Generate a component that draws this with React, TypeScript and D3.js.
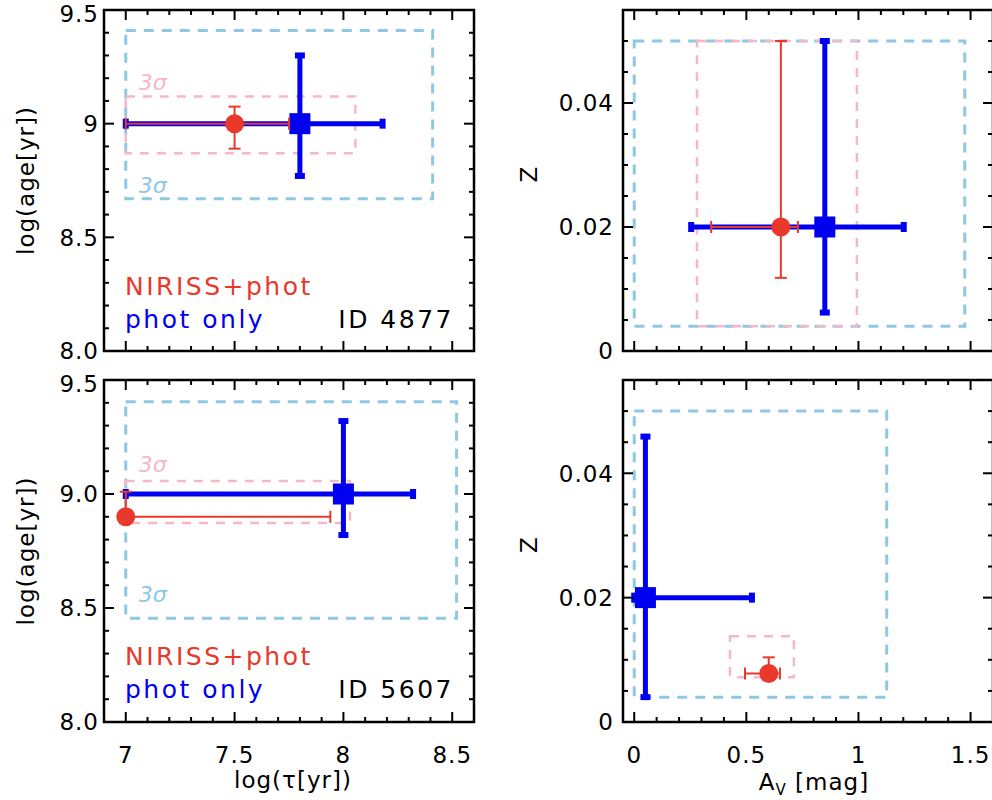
import React from "react";
import * as d3 from "d3";

// ---------- data ----------
const objectIds = ["4877", "5607"];
const ageTickLabelsTop = ["8.0", "8.5", "9", "9.5"];
const ageTickLabelsBottom = ["8.0", "8.5", "9.0", "9.5"];
const ageTicks = [8.0, 8.5, 9.0, 9.5];
const tauTicks = [7, 7.5, 8, 8.5];
const tauTickLabels = ["7", "7.5", "8", "8.5"];
const zTicks = [0, 0.02, 0.04];
const zTickLabels = ["0", "0.02", "0.04"];
const avTicks = [0, 0.5, 1, 1.5];
const avTickLabels = ["0", "0.5", "1", "1.5"];

// phot only (blue) — left column: tau vs age
const photTau = [7.8, 8.0];
const photTauLo = [7.0, 7.0];
const photTauHi = [8.18, 8.32];
const photAge = [9.0, 9.0];
const photAgeLo = [8.77, 8.82];
const photAgeHi = [9.3, 9.32];
// NIRISS+phot (red)
const nirTau = [7.5, 7.0];
const nirTauLo = [7.0, 7.0];
const nirTauHi = [7.75, 7.94];
const nirAge = [9.0, 8.9];
const nirAgeLo = [8.89, 8.89];
const nirAgeHi = [9.075, 9.01];
// 3 sigma boxes
const photBoxTau = [[7.0, 8.41], [7.0, 8.52]];
const photBoxAge = [[8.67, 9.41], [8.455, 9.405]];
const nirBoxTau = [[7.0, 8.055], [7.0, 8.03]];
const nirBoxAge = [[8.87, 9.12], [8.873, 9.057]];
const nirSigmaLabelAge = [9.15, 9.095];
const photSigmaLabelAge = [8.695, 8.525];

// right column: Av vs Z
const photAv = [0.85, 0.05];
const photAvLo = [0.254, 0.0];
const photAvHi = [1.202, 0.525];
const photZ = [0.02, 0.02];
const photZLo = [0.0062, 0.004];
const photZHi = [0.05, 0.0459];
const nirAv = [0.654, 0.6];
const nirAvLo = [0.343, 0.494];
const nirAvHi = [0.73, 0.65];
const nirZ = [0.02, 0.0078];
const nirZLo = [0.0118, 0.0075];
const nirZHi = [0.05, 0.0104];
const photBoxAv = [[0.0, 1.474], [0.0, 1.126]];
const photBoxZ = [[0.004, 0.05], [0.004, 0.05]];
const nirBoxAv = [[0.28, 0.993], [0.427, 0.712]];
const nirBoxZ = [[0.004, 0.05], [0.0072, 0.0138]];

// ---------- style ----------
const RED = "#e8392b";
const BLUE = "#0000f0";
const LBLUE = "#8ec8e4";
const PINK = "#f5b8c6";
const FONT = "'DejaVu Sans', sans-serif";

type PanelProps = {
  x0: number; x1: number; y0: number; y1: number;
  xDomain: [number, number]; yDomain: [number, number];
  xMajor: number[]; yMajor: number[];
  xLabels?: string[]; yLabels: string[];
  xMinorCount: number; yMinorCount: number;
  yLabelOffset: number;
  children: (x: d3.ScaleLinear<number, number>, y: d3.ScaleLinear<number, number>) => React.ReactNode;
};

function Panel(p: PanelProps) {
  const x = d3.scaleLinear().domain(p.xDomain).range([p.x0, p.x1]);
  const y = d3.scaleLinear().domain(p.yDomain).range([p.y1, p.y0]);
  const xMinor = x.ticks(p.xMinorCount);
  const yMinor = y.ticks(p.yMinorCount);
  const isMajor = (v: number, arr: number[]) => arr.some((m) => Math.abs(m - v) < 1e-9);
  const MAJ = 10, MIN = 5;
  return (
    <g>
      <defs>
        <clipPath id={`clip-${p.x0}-${p.y0}`}>
          <rect x={p.x0} y={p.y0} width={p.x1 - p.x0} height={p.y1 - p.y0} />
        </clipPath>
      </defs>
      <g clipPath={`url(#clip-${p.x0}-${p.y0})`}>{p.children(x, y)}</g>
      {/* ticks */}
      <g stroke="#000" strokeWidth={2}>
        {xMinor.map((v, i) => {
          const L = isMajor(v, p.xMajor) ? MAJ : MIN;
          const px = x(v);
          return (
            <g key={"xt" + i}>
              <line x1={px} x2={px} y1={p.y1} y2={p.y1 - L} />
              <line x1={px} x2={px} y1={p.y0} y2={p.y0 + L} />
            </g>
          );
        })}
        {yMinor.map((v, i) => {
          const L = isMajor(v, p.yMajor) ? MAJ : MIN;
          const py = y(v);
          return (
            <g key={"yt" + i}>
              <line x1={p.x0} x2={p.x0 + L} y1={py} y2={py} />
              <line x1={p.x1} x2={p.x1 - L} y1={py} y2={py} />
            </g>
          );
        })}
      </g>
      <rect x={p.x0} y={p.y0} width={p.x1 - p.x0} height={p.y1 - p.y0} fill="none" stroke="#000" strokeWidth={2.5} />
      {/* tick labels */}
      <g fontFamily={FONT} fontSize={23} fill="#000" letterSpacing={1}>
        {p.yMajor.map((v, i) => (
          <text key={"yl" + i} x={p.x0 - p.yLabelOffset} y={Math.max(y(v), p.y0 + 4)} dy="0.36em" textAnchor="end">
            {p.yLabels[i]}
          </text>
        ))}
        {p.xLabels &&
          p.xMajor.map((v, i) => (
            <text key={"xl" + i} x={x(v)} y={p.y1 + 41} textAnchor="middle">
              {p.xLabels![i]}
            </text>
          ))}
      </g>
    </g>
  );
}

function ErrBar(props: {
  cx: number; cy: number; xlo: number; xhi: number; ylo: number; yhi: number;
  color: string; width: number; cap: number; capW: number;
}) {
  const { cx, cy, xlo, xhi, ylo, yhi, color, width, cap, capW } = props;
  return (
    <g stroke={color} strokeWidth={width} fill="none">
      <line x1={xlo} x2={xhi} y1={cy} y2={cy} />
      <line x1={cx} x2={cx} y1={ylo} y2={yhi} />
      <line x1={xlo} x2={xlo} y1={cy - cap / 2} y2={cy + cap / 2} strokeWidth={capW} />
      <line x1={xhi} x2={xhi} y1={cy - cap / 2} y2={cy + cap / 2} strokeWidth={capW} />
      <line x1={cx - cap / 2} x2={cx + cap / 2} y1={ylo} y2={ylo} strokeWidth={capW} />
      <line x1={cx - cap / 2} x2={cx + cap / 2} y1={yhi} y2={yhi} strokeWidth={capW} />
    </g>
  );
}

function Box(props: { x: d3.ScaleLinear<number, number>; y: d3.ScaleLinear<number, number>; bx: number[]; by: number[]; color: string; w: number; dash: string }) {
  const { x, y, bx, by, color, w, dash } = props;
  return (
    <rect
      x={x(bx[0])}
      y={y(by[1])}
      width={x(bx[1]) - x(bx[0])}
      height={y(by[0]) - y(by[1])}
      fill="none"
      stroke={color}
      strokeWidth={w}
      strokeDasharray={dash}
    />
  );
}

const COLS = [
  { x0: 104, x1: 474 },
  { x0: 623, x1: 993 },
];
const ROWS = [
  { y0: 10, y1: 351 },
  { y0: 380, y1: 722 },
];

export default function App() {
  return (
    <svg width={992} height={800} style={{ position: "absolute", left: 0, top: 0, background: "#fff" }}>
      <rect width={992} height={800} fill="#fff" />
      {objectIds.map((id, r) => {
        const row = ROWS[r];
        return (
          <g key={id}>
            {/* left: tau vs age */}
            <Panel
              x0={COLS[0].x0} x1={COLS[0].x1} y0={row.y0} y1={row.y1}
              xDomain={[6.9, 8.6]} yDomain={[8, 9.5]}
              xMajor={tauTicks} yMajor={ageTicks}
              xLabels={r === 1 ? tauTickLabels : undefined}
              yLabels={r === 0 ? ageTickLabelsTop : ageTickLabelsBottom}
              xMinorCount={17} yMinorCount={15} yLabelOffset={5}
            >
              {(x, y) => (
                <g>
                  <Box x={x} y={y} bx={photBoxTau[r]} by={photBoxAge[r]} color={LBLUE} w={3} dash="10,8" />
                  <Box x={x} y={y} bx={nirBoxTau[r]} by={nirBoxAge[r]} color={PINK} w={2.5} dash="9,8" />
                  <text x={x(photBoxTau[r][0]) + 13} y={y(nirSigmaLabelAge[r])} fill={PINK} fontFamily={FONT} fontSize={22} fontStyle="italic">3σ</text>
                  <text x={x(photBoxTau[r][0]) + 13} y={y(photSigmaLabelAge[r])} fill={LBLUE} fontFamily={FONT} fontSize={22} fontStyle="italic">3σ</text>
                  <ErrBar cx={x(photTau[r])} cy={y(photAge[r])} xlo={x(photTauLo[r])} xhi={x(photTauHi[r])} ylo={y(photAgeLo[r])} yhi={y(photAgeHi[r])} color={BLUE} width={5} cap={10} capW={6} />
                  <rect x={x(photTau[r]) - 10.5} y={y(photAge[r]) - 10.5} width={21} height={21} fill={BLUE} />
                  <ErrBar cx={x(nirTau[r])} cy={y(nirAge[r])} xlo={x(nirTauLo[r])} xhi={x(nirTauHi[r])} ylo={y(nirAgeLo[r])} yhi={y(nirAgeHi[r])} color={RED} width={2} cap={12} capW={2} />
                  <circle cx={x(nirTau[r])} cy={y(nirAge[r])} r={9.5} fill={RED} />
                </g>
              )}
            </Panel>
            {/* right: Av vs Z */}
            <Panel
              x0={COLS[1].x0} x1={COLS[1].x1} y0={row.y0} y1={row.y1}
              xDomain={[-0.05, 1.6]} yDomain={[0, 0.055]}
              xMajor={avTicks} yMajor={zTicks}
              xLabels={r === 1 ? avTickLabels : undefined}
              yLabels={zTickLabels}
              xMinorCount={16} yMinorCount={11} yLabelOffset={9}
            >
              {(x, y) => (
                <g>
                  <Box x={x} y={y} bx={photBoxAv[r]} by={photBoxZ[r]} color={LBLUE} w={3} dash="10,8" />
                  <Box x={x} y={y} bx={nirBoxAv[r]} by={nirBoxZ[r]} color={PINK} w={2.5} dash="9,8" />
                  <ErrBar cx={x(photAv[r])} cy={y(photZ[r])} xlo={x(photAvLo[r])} xhi={x(photAvHi[r])} ylo={y(photZLo[r])} yhi={y(photZHi[r])} color={BLUE} width={5} cap={10} capW={6} />
                  <rect x={x(photAv[r]) - 10.5} y={y(photZ[r]) - 10.5} width={21} height={21} fill={BLUE} />
                  <ErrBar cx={x(nirAv[r])} cy={y(nirZ[r])} xlo={x(nirAvLo[r])} xhi={x(nirAvHi[r])} ylo={y(nirZLo[r])} yhi={y(nirZHi[r])} color={RED} width={2} cap={12} capW={2} />
                  <circle cx={x(nirAv[r])} cy={y(nirZ[r])} r={9.5} fill={RED} />
                </g>
              )}
            </Panel>
            {/* legend */}
            <g fontFamily={FONT} fontSize={25} letterSpacing={2.5} style={{ whiteSpace: "pre" }}>
              <text x={COLS[0].x0 + 21} y={row.y0 + 285} fill={RED}>NIRISS+phot</text>
              <text x={COLS[0].x0 + 21} y={row.y0 + 318} fill={BLUE}>{"phot  only"}</text>
              <text x={COLS[0].x1 - 20} y={row.y0 + 318} fill="#000" textAnchor="end">{"ID  " + id}</text>
            </g>
            {/* y axis titles */}
            <text transform={`translate(34,${(row.y0 + row.y1) / 2}) rotate(-90)`} textAnchor="middle" fontFamily={FONT} fontSize={23} letterSpacing={1}>
              log(age[yr])
            </text>
            <text transform={`translate(537,${(row.y0 + row.y1) / 2 - 6}) rotate(-90)`} textAnchor="middle" fontFamily={FONT} fontSize={23}>
              Z
            </text>
          </g>
        );
      })}
      {/* x axis titles */}
      <text x={(COLS[0].x0 + COLS[0].x1) / 2 + 4} y={788} textAnchor="middle" fontFamily={FONT} fontSize={23} letterSpacing={1}>
        log(τ[yr])
      </text>
      <text x={(COLS[1].x0 + COLS[1].x1) / 2 + 6} y={790} textAnchor="middle" fontFamily={FONT} fontSize={23} letterSpacing={1}>
        A<tspan fontSize={15} dy={5}>V</tspan><tspan dy={-5}> [mag]</tspan>
      </text>
    </svg>
  );
}
